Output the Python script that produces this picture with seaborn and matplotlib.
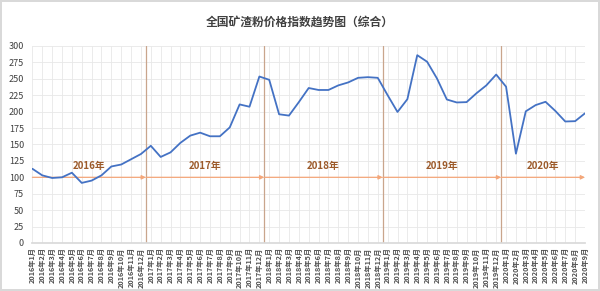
import matplotlib
matplotlib.use("Agg")
import matplotlib.pyplot as plt
import seaborn as sns
import pandas as pd
import numpy as np

title = "全国矿渣粉价格指数趋势图（综合）"
years = [2016, 2017, 2018, 2019, 2020]
months_per_year = [12, 12, 12, 12, 9]
values = [113, 103, 99, 100, 107, 91.5, 95, 103, 116.5, 119.5, 127.5, 135.5,
          148, 131, 138, 152.5, 163.5, 168, 162.5, 162.5, 176, 211, 207.5, 253.5,
          248.5, 196, 194, 214.5, 236, 233, 233, 240, 244.5, 251.5, 252.5, 251.5,
          225, 199.5, 219, 286, 276, 250.5, 218.5, 214, 214.5, 228, 240, 256.5,
          238, 136, 200.5, 210, 215, 201, 185, 185.5, 197.5]
year_labels = ["2016年", "2017年", "2018年", "2019年", "2020年"]
baseline = 100
yticks = list(range(0, 301, 25))

labels = [f"{y}年{m}月" for y, n in zip(years, months_per_year) for m in range(1, n + 1)]
df = pd.DataFrame({"idx": np.arange(len(values)), "value": values, "label": labels})

sns.set_theme(style="white")
plt.rcParams["font.family"] = ["Noto Sans CJK SC", "DejaVu Sans"]

fig = plt.figure(figsize=(6, 2.91), dpi=100)
fig.patch.set_edgecolor("#D9D9D9")
fig.patch.set_linewidth(1.5)
ax = fig.add_axes([0.054, 0.165, 0.921, 0.677])

sns.lineplot(data=df, x="idx", y="value", ax=ax, color="#4472C4", linewidth=1.3)

ax.set_xlim(0, len(values) - 1)
ax.set_ylim(0, 300)
ax.set_yticks(yticks)
ax.set_xticks(df["idx"])
ax.set_xticklabels(df["label"], rotation=90, fontsize=5.2, color="#505050",
                   fontweight="bold")
ax.tick_params(axis="y", labelsize=6.5, colors="#404040", length=0, pad=6)
ax.tick_params(axis="x", length=0, pad=3)
ax.grid(True, color="#E8E8E8", linewidth=0.6)
ax.set_xlabel("")
ax.set_ylabel("")
for s in ax.spines.values():
    s.set_visible(False)
ax.spines["bottom"].set_visible(True)
ax.spines["bottom"].set_color("#D9D9D9")

# year boundaries
ends = np.cumsum(months_per_year)
bounds = [0] + [e - 0.5 for e in ends[:-1]] + [len(values) - 1]
for b in bounds[1:-1]:
    ax.axvline(b, color="#C9A58C", linewidth=0.9, zorder=1)
for i in range(len(years)):
    a, b = bounds[i], bounds[i + 1]
    ax.annotate("", xy=(b, baseline), xytext=(a, baseline),
                arrowprops=dict(arrowstyle="-|>", color="#F4A77A", lw=0.9,
                                mutation_scale=6, shrinkA=0, shrinkB=0),
                zorder=1)
    ax.text((a + b) / 2, 117, year_labels[i], ha="center", va="center",
            fontsize=7, color="#9C5A2A", fontweight="bold")

fig.text(0.5, 0.925, title, ha="center", va="center", fontsize=8.5,
         fontweight="bold", color="#404040")

fig.savefig("out.png", dpi=100)
